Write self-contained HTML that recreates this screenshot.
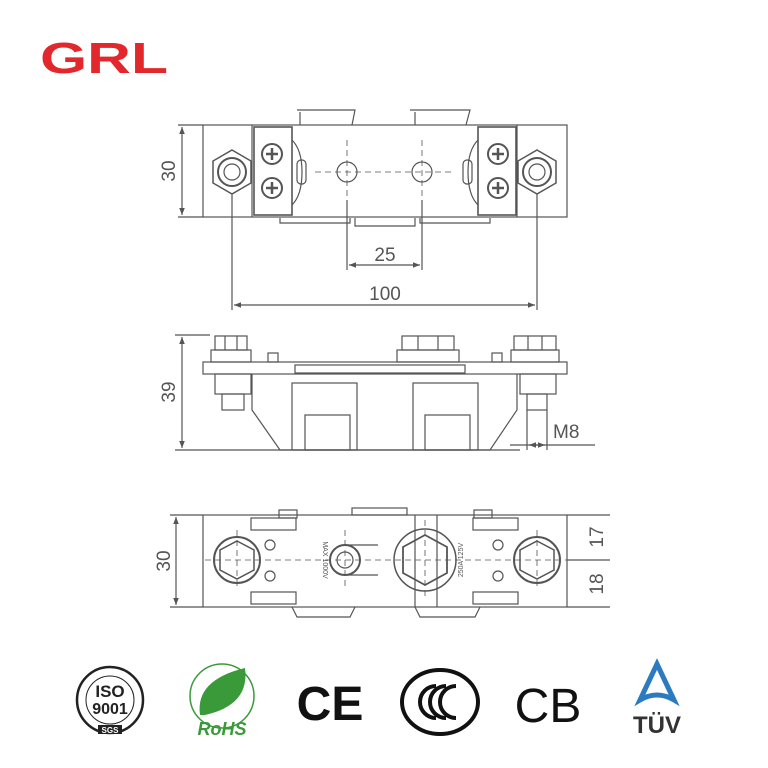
<!DOCTYPE html>
<html><head><style>
html,body{margin:0;padding:0;background:#fff;}
svg{display:block}
text{font-family:"Liberation Sans",sans-serif;}
</style></head><body>
<svg width="768" height="768" viewBox="0 0 768 768" xmlns="http://www.w3.org/2000/svg">
<defs>
<marker id="a" viewBox="0 0 10 10" refX="10" refY="5" markerWidth="6" markerHeight="6" orient="auto-start-reverse"><path d="M0,1 L10,5 L0,9 z" fill="#555"/></marker>
</defs>
<text x="40" y="73" font-size="44" font-weight="bold" fill="#e2282d" textLength="128" lengthAdjust="spacingAndGlyphs">GRL</text>

<g fill="none" stroke="#555" stroke-width="1.2">
<!-- TOP VIEW -->
<rect x="203" y="125" width="364" height="92"/>
<line x1="252" y1="125" x2="252" y2="217"/><line x1="517" y1="125" x2="517" y2="217"/>
<rect x="254" y="127" width="38" height="88" stroke-width="1.6"/>
<rect x="478" y="127" width="38" height="88" stroke-width="1.6"/>
<path d="M292,140 Q302,150 302,172 Q302,195 292,205"/>
<path d="M478,140 Q468,150 468,172 Q468,195 478,205"/>
<path d="M297,110 L355,110 L352,125 M300,112 L300,125 M410,110 L470,110 L466,125 M415,112 L415,125"/>
<path d="M280,218 L280,223 L350,223 L350,218 M355,218 L355,226 L415,226 L415,218 M420,218 L420,223 L490,223 L490,218"/>
<polygon points="232,150 251,161 251,183 232,194 213,183 213,161" stroke-width="1.5"/>
<circle cx="232" cy="172" r="14" stroke-width="2"/><circle cx="232" cy="172" r="8"/>
<polygon points="537,150 556,161 556,183 537,194 518,183 518,161" stroke-width="1.5"/>
<circle cx="537" cy="172" r="14" stroke-width="2"/><circle cx="537" cy="172" r="8"/>
<circle cx="272" cy="154" r="10" stroke-width="2"/><circle cx="272" cy="188" r="10" stroke-width="2"/>
<circle cx="498" cy="154" r="10" stroke-width="2"/><circle cx="498" cy="188" r="10" stroke-width="2"/>
<path d="M266,154h12M272,148v12M266,188h12M272,182v12M492,154h12M498,148v12M492,188h12M498,182v12" stroke-width="2.5"/>
<rect x="297" y="160" width="9" height="24" rx="4"/><rect x="463" y="160" width="9" height="24" rx="4"/>
<circle cx="347" cy="172" r="10"/><circle cx="422" cy="172" r="10"/>
<path d="M315,172 H455 M347,140 V200 M422,140 V200" stroke-dasharray="6,4" stroke-width="0.8"/>
<line x1="178" y1="125" x2="203" y2="125"/><line x1="178" y1="217" x2="203" y2="217"/>
<line x1="182" y1="127" x2="182" y2="215" marker-start="url(#a)" marker-end="url(#a)"/>
<line x1="347" y1="200" x2="347" y2="270"/><line x1="422" y1="200" x2="422" y2="270"/>
<line x1="349" y1="265" x2="420" y2="265" marker-start="url(#a)" marker-end="url(#a)"/>
<line x1="232" y1="194" x2="232" y2="310"/><line x1="537" y1="194" x2="537" y2="310"/>
<line x1="234" y1="305" x2="535" y2="305" marker-start="url(#a)" marker-end="url(#a)"/>

<!-- SIDE VIEW -->
<line x1="175" y1="450" x2="520" y2="450"/>
<line x1="175" y1="335" x2="210" y2="335"/>
<line x1="182" y1="337" x2="182" y2="448" marker-start="url(#a)" marker-end="url(#a)"/>
<rect x="203" y="362" width="364" height="12"/>
<rect x="295" y="365" width="170" height="8"/>
<path d="M252,374 V410 L280,450 H490 L517,410 V374"/>
<rect x="292" y="383" width="65" height="67"/><rect x="305" y="415" width="45" height="35"/>
<rect x="413" y="383" width="65" height="67"/><rect x="425" y="415" width="45" height="35"/>
<rect x="211" y="350" width="40" height="12"/><rect x="215" y="336" width="32" height="14"/>
<line x1="225" y1="336" x2="225" y2="350"/><line x1="237" y1="336" x2="237" y2="350"/>
<rect x="397" y="350" width="62" height="12"/><rect x="402" y="336" width="52" height="14"/>
<line x1="418" y1="336" x2="418" y2="350"/><line x1="438" y1="336" x2="438" y2="350"/>
<rect x="511" y="350" width="48" height="12"/><rect x="514" y="336" width="42" height="14"/>
<line x1="528" y1="336" x2="528" y2="350"/><line x1="542" y1="336" x2="542" y2="350"/>
<rect x="268" y="353" width="10" height="9"/><rect x="492" y="353" width="10" height="9"/>
<rect x="215" y="374" width="36" height="20"/><rect x="222" y="394" width="22" height="16"/>
<rect x="520" y="374" width="36" height="20"/><rect x="527" y="394" width="20" height="16"/>
<line x1="527" y1="410" x2="527" y2="450"/><line x1="547" y1="410" x2="547" y2="450"/>
<line x1="510" y1="445" x2="595" y2="445"/>
<line x1="529" y1="445" x2="545" y2="445" marker-start="url(#a)" marker-end="url(#a)"/>

<!-- BOTTOM VIEW -->
<rect x="203" y="515" width="364" height="92"/>
<line x1="170" y1="515" x2="203" y2="515"/><line x1="170" y1="607" x2="203" y2="607"/>
<line x1="176" y1="517" x2="176" y2="605" marker-start="url(#a)" marker-end="url(#a)"/>
<line x1="567" y1="515" x2="610" y2="515"/><line x1="567" y1="560" x2="610" y2="560"/><line x1="567" y1="607" x2="610" y2="607"/>
<rect x="251" y="518" width="45" height="12"/><rect x="251" y="592" width="45" height="12"/>
<rect x="473" y="518" width="45" height="12"/><rect x="473" y="592" width="45" height="12"/>
<rect x="279" y="510" width="18" height="8"/><rect x="474" y="510" width="18" height="8"/><rect x="352" y="508" width="55" height="7"/>
<path d="M292,607 L297,617 H350 L355,607 M415,607 L420,617 H475 L480,607"/>
<line x1="415" y1="515" x2="415" y2="607"/><line x1="437" y1="515" x2="437" y2="607"/>
<circle cx="237" cy="560" r="23" stroke-width="2"/>
<polygon points="237,541 254,550 254,570 237,579 220,570 220,550" stroke-width="1.5"/>
<circle cx="537" cy="560" r="23" stroke-width="2"/>
<polygon points="537,541 554,550 554,570 537,579 520,570 520,550" stroke-width="1.5"/>
<circle cx="345" cy="560" r="15" stroke-width="2"/><circle cx="345" cy="560" r="8"/>
<path d="M345,545 L378,545 M345,575 L378,575"/>
<circle cx="425" cy="560" r="31" stroke-width="1.5"/>
<polygon points="425,535 447,547 447,573 425,585 403,573 403,547" stroke-width="1.8"/>
<circle cx="270" cy="545" r="5"/><circle cx="270" cy="576" r="5"/>
<circle cx="498" cy="545" r="5"/><circle cx="498" cy="576" r="5"/>
<path d="M205,560 H570 M237,530 V590 M345,530 V590 M425,520 V600 M537,530 V590" stroke-dasharray="6,4" stroke-width="0.8"/>
</g>
<g fill="#555">
<text x="0" y="0" font-size="19" transform="translate(175,171) rotate(-90)" text-anchor="middle">30</text>
<text x="385" y="261" font-size="19" text-anchor="middle">25</text>
<text x="385" y="300" font-size="19" text-anchor="middle">100</text>
<text x="0" y="0" font-size="19" transform="translate(175,392) rotate(-90)" text-anchor="middle">39</text>
<text x="553" y="438" font-size="19">M8</text>
<text x="0" y="0" font-size="19" transform="translate(170,561) rotate(-90)" text-anchor="middle">30</text>
<text x="0" y="0" font-size="19" transform="translate(603,537) rotate(-90)" text-anchor="middle">17</text>
<text x="0" y="0" font-size="19" transform="translate(603,584) rotate(-90)" text-anchor="middle">18</text>
<text x="0" y="0" font-size="7" transform="translate(323,560) rotate(90)" text-anchor="middle">MAX 1000V</text>
<text x="0" y="0" font-size="7" transform="translate(463,560) rotate(-90)" text-anchor="middle">250A 125V</text>
</g>

<!-- LOGOS -->
<g>
<circle cx="110" cy="700" r="33" fill="none" stroke="#222" stroke-width="2.5"/>
<circle cx="110" cy="700" r="24" fill="none" stroke="#222" stroke-width="1"/>
<text x="110" y="697" font-size="17" font-family="Liberation Serif" font-weight="bold" text-anchor="middle" fill="#222">ISO</text>
<text x="110" y="714" font-size="16" font-family="Liberation Serif" font-weight="bold" text-anchor="middle" fill="#222">9001</text>
<rect x="98" y="725" width="24" height="9" fill="#222"/>
<text x="110" y="733" font-size="8" font-weight="bold" text-anchor="middle" fill="#fff">SGS</text>
<circle cx="222" cy="696" r="32" fill="none" stroke="#3a9a3a" stroke-width="1.5"/>
<path d="M200,715 Q195,680 245,668 Q250,705 205,715 z" fill="#3a9a3a"/>
<text x="222" y="735" font-size="18" font-weight="bold" font-style="italic" text-anchor="middle" fill="#3a9a3a">RoHS</text>
<text x="330" y="720" font-size="48" font-weight="bold" text-anchor="middle" fill="#111">CE</text>
<ellipse cx="440" cy="702" rx="38" ry="32" fill="none" stroke="#111" stroke-width="4"/>
<g fill="none" stroke="#111" stroke-width="4">
<path d="M436,686 A16,16 0 0 0 436,718"/>
<path d="M446,686 A16,16 0 0 0 446,718"/>
<path d="M456,686 A16,16 0 0 0 456,718"/>
</g>
<text x="548" y="722" font-size="48" text-anchor="middle" fill="#111">CB</text>
<path d="M657,664 L640,700 Q657,690 674,700 z" fill="none" stroke="#2a7bc0" stroke-width="5"/>
<text x="657" y="733" font-size="24" font-weight="bold" text-anchor="middle" fill="#333">TÜV</text>
</g>
</svg>
</body></html>
